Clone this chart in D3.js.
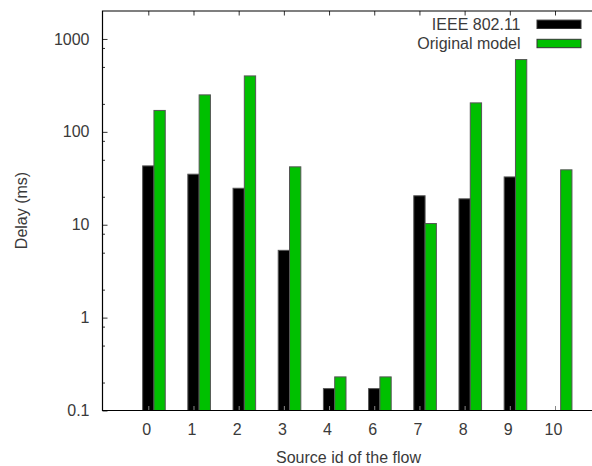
<!DOCTYPE html>
<html><head><meta charset="utf-8">
<script src="https://cdn.jsdelivr.net/npm/d3@7"></script>
<style>body{margin:0;background:#fff}svg{display:block}text{font-family:"Liberation Sans",Arial,sans-serif;fill:#3a3a3a}</style>
</head><body><svg id="c" width="592" height="466"></svg>
<script>
const categories = ["0","1","2","3","4","6","7","8","9","10"];
const ieee = [43, 35, 24.7, 5.3, 0.172, 0.172, 20.5, 19, 32.7, null];
const original = [170, 250, 400, 42, 0.23, 0.23, 10.3, 205, 600, 39];
const seriesNames = ["IEEE 802.11", "Original model"];
const seriesColors = ["#000000", "#00c000"];
const yMajorTicks = [0.1, 1, 10, 100, 1000];
const yMinorMult = [2, 5, 8];

const svg = d3.select("#c");
const L = 102.5, T = 11, B = 410.5, R = 600;
const FS = 16;
const y = d3.scaleLog().domain([0.1, 2000]).range([B, T]);
const x = d3.scalePoint().domain(categories).range([148.3, 555]);
const step = x.step();
const bw = step / 4;

// bars
const series = [ieee, original];
series.forEach((vals, si) => {
  svg.append("g").selectAll("rect")
    .data(categories.map((c, i) => ({c, v: vals[i]})).filter(d => d.v != null))
    .join("rect")
    .attr("x", d => x(d.c) - bw / 2 + si * bw)
    .attr("y", d => y(d.v))
    .attr("width", bw)
    .attr("height", d => B - y(d.v))
    .attr("fill", seriesColors[si])
    .attr("stroke", "#555")
    .attr("stroke-width", 1);
});

// y axis
const minor = [];
yMajorTicks.forEach(t => yMinorMult.forEach(m => { const v = t * m; if (v < 2000) minor.push(v); }));
const ay = svg.append("g").attr("transform", `translate(${L},0)`);
ay.call(d3.axisRight(y).tickValues(minor).tickSize(2.5).tickFormat(""))
  .call(g => g.select(".domain").remove())
  .call(g => g.selectAll("line").attr("stroke", "#333"));
const ay2 = svg.append("g").attr("transform", `translate(${L},0)`);
ay2.call(d3.axisRight(y).tickValues(yMajorTicks).tickSize(5).tickFormat(""))
  .call(g => g.select(".domain").remove())
  .call(g => g.selectAll("line").attr("stroke", "#333"));
svg.append("g").selectAll("text").data(yMajorTicks).join("text")
  .attr("x", 89.5).attr("y", d => y(d)).attr("dy", "0.35em")
  .attr("text-anchor", "end").attr("font-size", FS)
  .text(d => d3.format("~g")(d));

// x axis ticks (top and bottom, inward)
const axTop = svg.append("g").attr("transform", `translate(0,${T})`);
axTop.call(d3.axisBottom(x).tickSize(4.5).tickFormat(""))
  .call(g => g.select(".domain").remove())
  .call(g => g.selectAll("line").attr("stroke", "#333"));
const axBot = svg.append("g").attr("transform", `translate(0,${B})`);
axBot.call(d3.axisTop(x).tickSize(4.5).tickFormat(""))
  .call(g => g.select(".domain").remove())
  .call(g => g.selectAll("line").attr("stroke", "#888"));
svg.append("g").selectAll("text").data(categories).join("text")
  .attr("x", d => x(d) - 1.5).attr("y", 429.5).attr("dy", "0.35em")
  .attr("text-anchor", "middle").attr("font-size", FS).text(d => d);

// frame
svg.append("path")
  .attr("d", `M${R},${T}H${L}V${B}H${R}`)
  .attr("fill", "none").attr("stroke", "#000").attr("stroke-width", 1.2);

// axis titles
svg.append("text").attr("x", 348.5).attr("y", 457).attr("dy", "0.35em")
  .attr("text-anchor", "middle").attr("font-size", FS).text("Source id of the flow");
svg.append("text").attr("transform", "translate(21,210.5) rotate(-90)").attr("dy", "0.35em")
  .attr("text-anchor", "middle").attr("font-size", FS).text("Delay (ms)");

// legend
const leg = svg.append("g");
seriesNames.forEach((n, i) => {
  const cy = 24.3 + i * 19.2;
  leg.append("text").attr("x", 520.5).attr("y", cy).attr("dy", "0.35em")
    .attr("text-anchor", "end").attr("font-size", FS).text(n);
  leg.append("rect").attr("x", 537).attr("y", cy - 4.2).attr("width", 44).attr("height", 8.4)
    .attr("fill", seriesColors[i]).attr("stroke", "#333").attr("stroke-width", 1);
});
</script></body></html>
